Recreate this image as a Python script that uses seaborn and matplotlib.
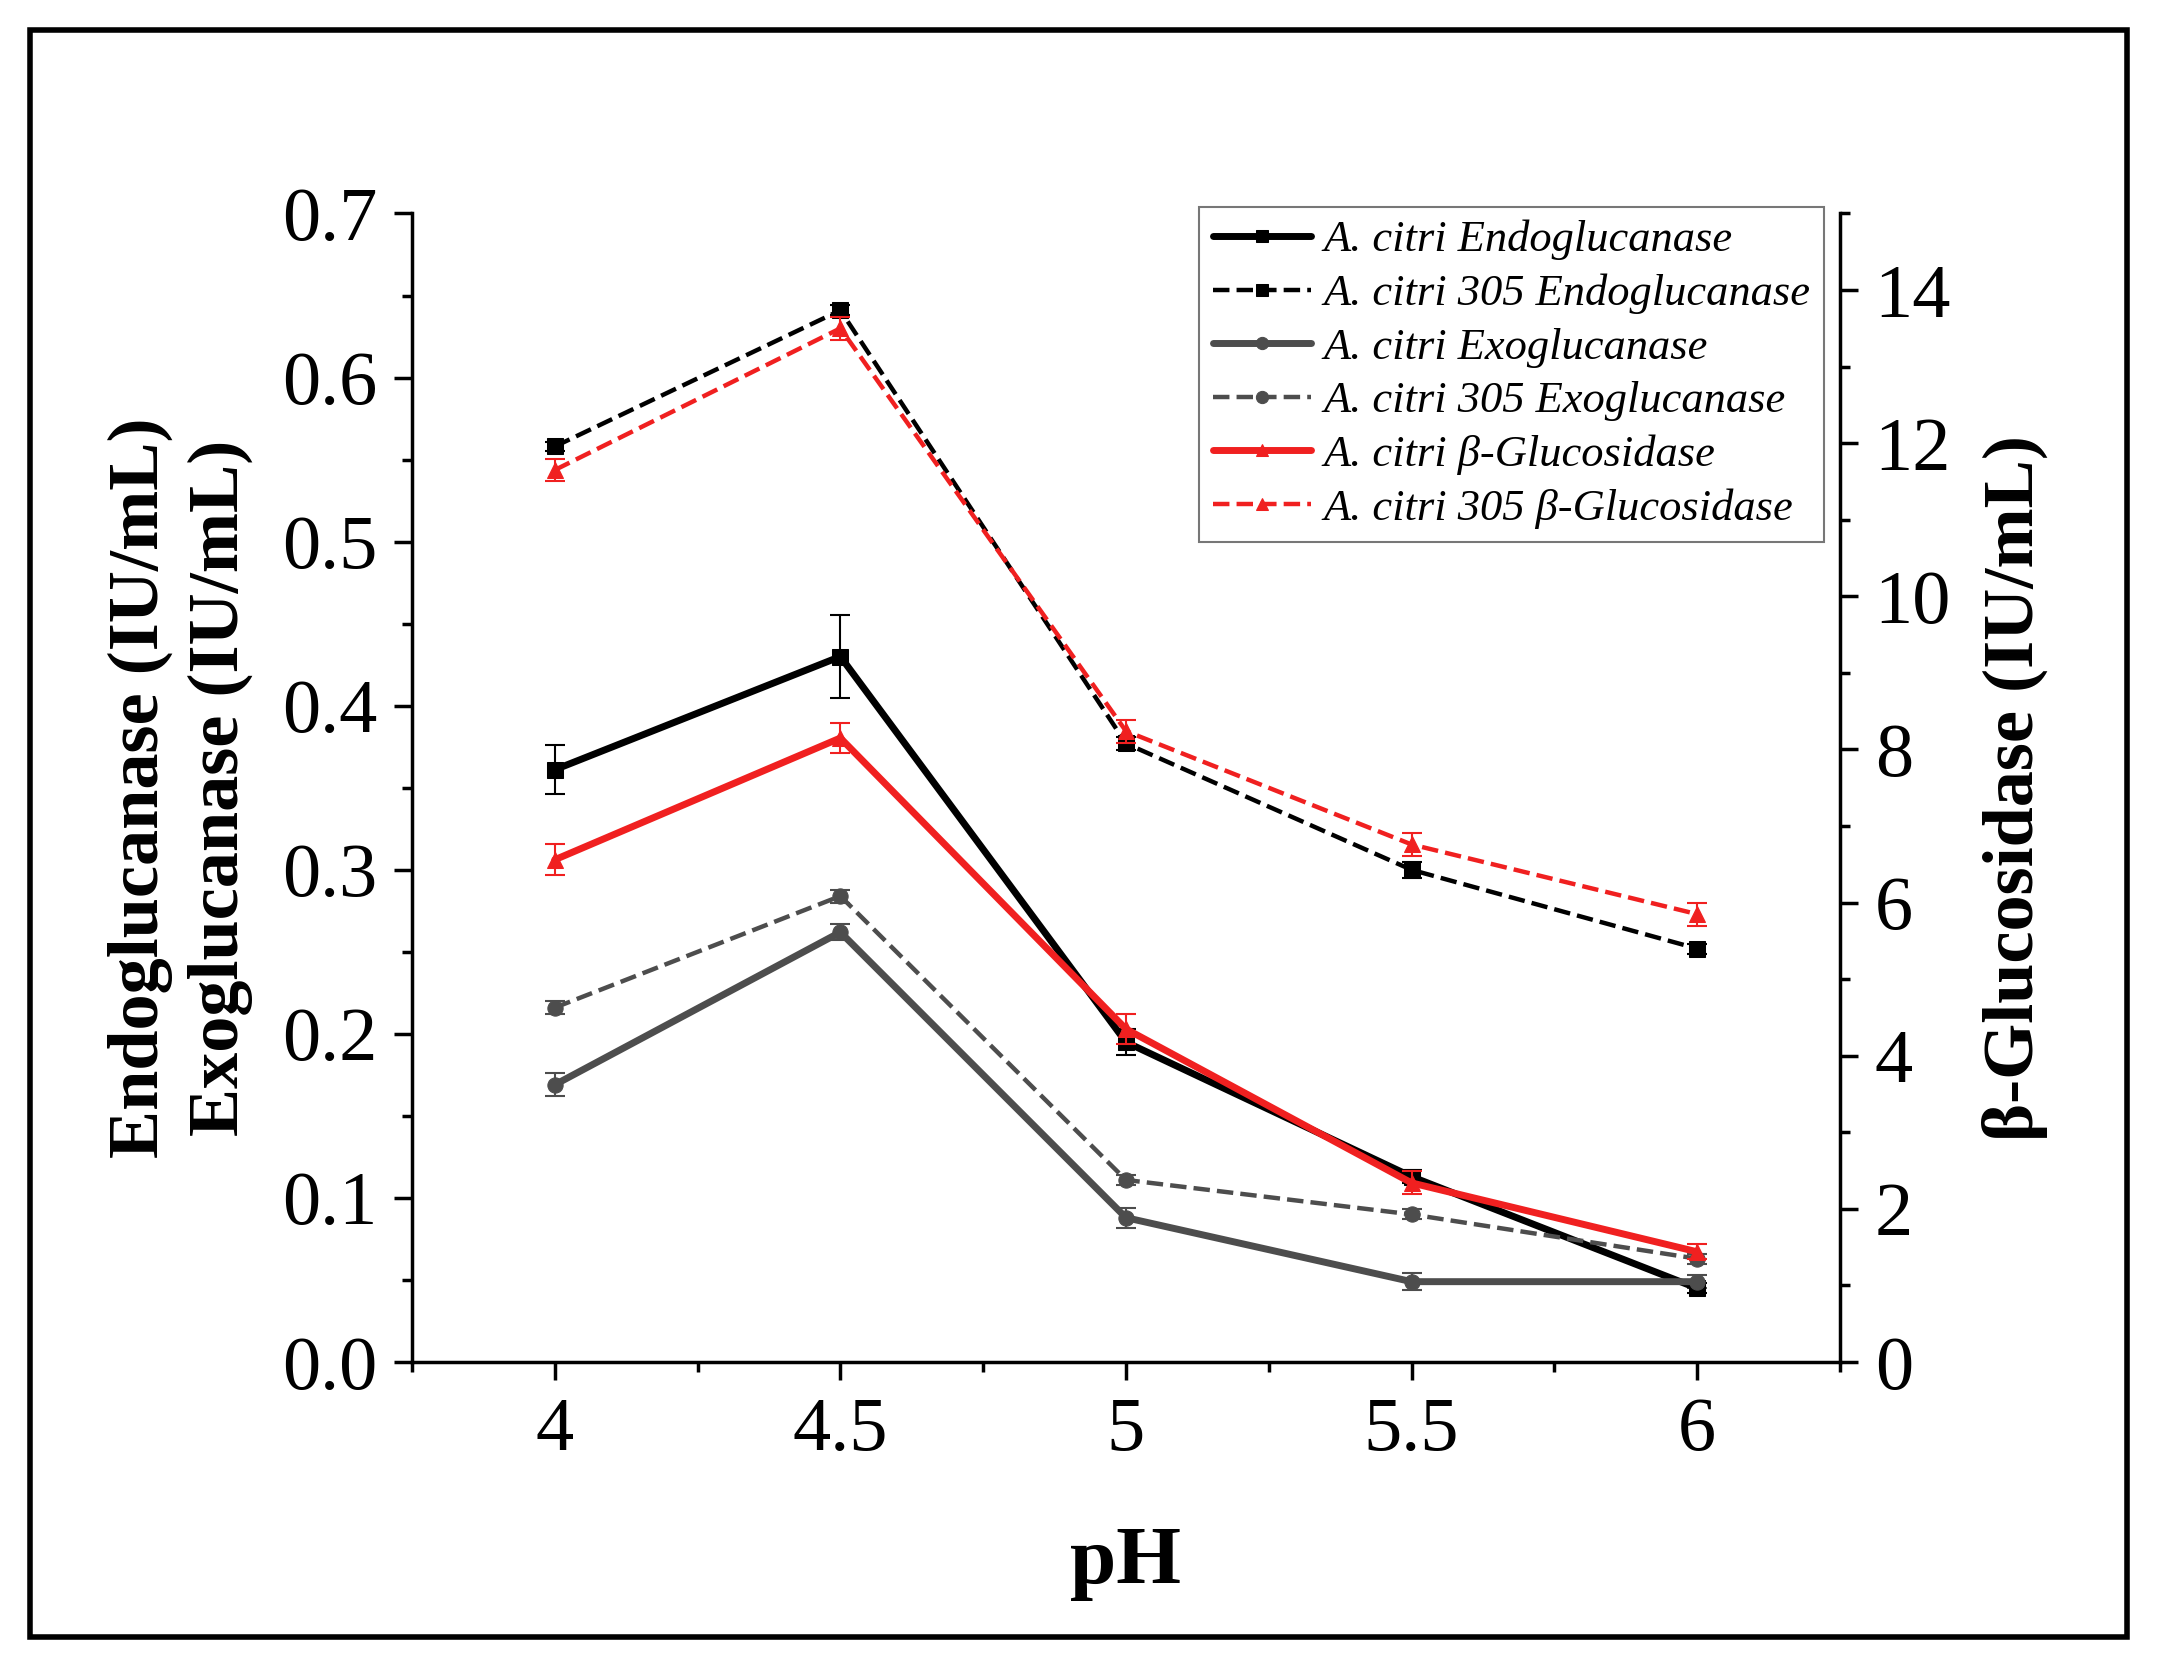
import numpy as np
import pandas as pd
import matplotlib
matplotlib.use('Agg')
import matplotlib.pyplot as plt
from matplotlib.patches import Rectangle
from matplotlib.ticker import MultipleLocator
import seaborn as sns

ph = [4, 4.5, 5, 5.5, 6]

endo = [0.361, 0.430, 0.195, 0.113, 0.045]
endo_err = [0.015, 0.025, 0.008, 0.004, 0.003]
endo305 = [0.558, 0.641, 0.377, 0.300, 0.252]
endo305_err = [0.003, 0.003, 0.004, 0.005, 0.003]
exo = [0.169, 0.262, 0.088, 0.049, 0.049]
exo_err = [0.007, 0.005, 0.006, 0.005, 0.004]
exo305 = [0.216, 0.284, 0.111, 0.090, 0.063]
exo305_err = [0.004, 0.004, 0.003, 0.003, 0.003]
bglu = [6.56, 8.15, 4.35, 2.34, 1.44]
bglu_err = [0.20, 0.20, 0.20, 0.15, 0.10]
bglu305 = [11.65, 13.50, 8.24, 6.76, 5.85]
bglu305_err = [0.15, 0.15, 0.15, 0.15, 0.15]

labels = ["A. citri Endoglucanase", "A. citri 305 Endoglucanase",
          "A. citri Exoglucanase", "A. citri 305 Exoglucanase",
          "A. citri β-Glucosidase", "A. citri 305 β-Glucosidase"]
left_ticks = [0.0, 0.1, 0.2, 0.3, 0.4, 0.5, 0.6, 0.7]
right_ticks = [0, 2, 4, 6, 8, 10, 12, 14]

sns.set_style("ticks")
plt.rcParams['font.family'] = ['Liberation Serif', 'DejaVu Serif']
for k in ['text.color', 'axes.labelcolor', 'xtick.color', 'ytick.color', 'axes.edgecolor']:
    plt.rcParams[k] = 'black'

fig = plt.figure(figsize=(21.57, 16.55), dpi=100)
ax = fig.add_axes([0.191, 0.177, 0.662, 0.694])
ax2 = ax.twinx()

black = "#000000"
gray = "#4d4d4d"
red = "#f02020"

series = [
    (ax, endo, endo_err, labels[0], black, '-', 's', 5.0),
    (ax, endo305, endo305_err, labels[1], black, '--', 's', 3.2),
    (ax, exo, exo_err, labels[2], gray, '-', 'o', 5.0),
    (ax, exo305, exo305_err, labels[3], gray, '--', 'o', 3.2),
    (ax2, bglu, bglu_err, labels[4], red, '-', '^', 5.0),
    (ax2, bglu305, bglu305_err, labels[5], red, '--', '^', 3.2),
]

handles = []
for a, vals, err, lab, col, ls, mk, lw in series:
    df = pd.DataFrame({"pH": ph, "val": vals})
    a.errorbar(ph, vals, yerr=err, fmt='none', ecolor=col, elinewidth=1.5,
               capsize=7, capthick=1.5, zorder=2)
    sns.lineplot(data=df, x="pH", y="val", ax=a, color=col, linestyle=ls,
                 linewidth=lw, marker=mk, markersize=11, markeredgecolor=col,
                 label=lab, legend=False, zorder=3)
    handles.append(a.lines[-1])

ax.set_xlim(3.75, 6.25)
ax.set_ylim(0, 0.7)
ax2.set_ylim(0, 15)
ax.set_xticks(ph)
ax.set_xticklabels(["4", "4.5", "5", "5.5", "6"])
ax.xaxis.set_minor_locator(MultipleLocator(0.25))
ax.set_yticks(left_ticks)
ax.set_yticklabels(["%.1f" % v for v in left_ticks])
ax.yaxis.set_minor_locator(MultipleLocator(0.05))
ax2.set_yticks(right_ticks)
ax2.set_yticklabels([str(v) for v in right_ticks])
ax2.yaxis.set_minor_locator(MultipleLocator(1))

for a in (ax, ax2):
    a.spines['top'].set_visible(False)
    for s in a.spines.values():
        s.set_linewidth(2.5)
        s.set_color('black')
    a.tick_params(which='major', direction='out', length=13, width=2.5,
                  labelsize=55, pad=12, color='black', labelcolor='black')
    a.tick_params(which='minor', direction='out', length=7, width=2.5, color='black')
ax.spines['right'].set_visible(False)
ax2.spines['left'].set_visible(False)
ax2.spines['bottom'].set_visible(False)

ax.set_xlabel("pH", fontsize=60, fontweight='bold', color='black')
ax.xaxis.set_label_coords(0.5, -0.143)
ax.set_ylabel("Endoglucanase (IU/mL)\nExoglucanase (IU/mL)", fontsize=52,
              fontweight='bold', linespacing=1.3, color='black')
ax.yaxis.set_label_coords(-0.111, 0.5)
ax2.set_ylabel("β-Glucosidase (IU/mL)", fontsize=52, fontweight='bold', color='black')
ax2.yaxis.set_label_coords(1.099, 0.5)

leg = ax2.legend(handles=handles, labels=labels, loc='upper right',
                 bbox_to_anchor=(0.989, 1.006), borderaxespad=0,
                 prop={'family': 'Liberation Serif', 'style': 'italic', 'size': 32},
                 frameon=True, fancybox=False, edgecolor='#555555',
                 handlelength=2.2, labelspacing=0.3, handletextpad=0.3,
                 borderpad=0.3, markerscale=0.8)
leg.get_frame().set_linewidth(1.5)
for t in leg.get_texts():
    t.set_color('black')

fig.patches.append(Rectangle((0.014, 0.011), 0.972, 0.971, transform=fig.transFigure,
                             fill=False, edgecolor='black', linewidth=4))

fig.savefig("out.png", dpi=100)
